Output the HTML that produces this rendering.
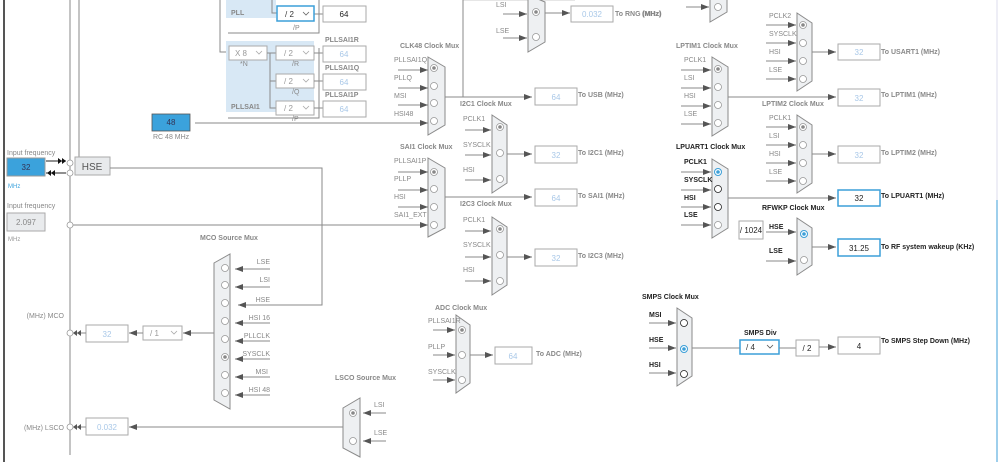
<!DOCTYPE html>
<html><head><meta charset="utf-8"><style>
html,body{margin:0;padding:0;background:#fff;width:999px;height:462px;overflow:hidden}
svg{display:block;font-family:"Liberation Sans",sans-serif}
.l{font-size:7px;fill:#888}
.t{font-size:7px;fill:#888;font-weight:bold}
.d{font-size:7px;fill:#222;font-weight:bold}
.v{font-size:8px;fill:#a9c8e8;text-anchor:middle}
.vd{font-size:8px;fill:#222;text-anchor:middle}
.ln{stroke:#8a8a8a;stroke-width:1;fill:none}
.box{fill:#fff;stroke:#aaa;stroke-width:1}
.bb{fill:#fff;stroke:#3c9fd8;stroke-width:1.5}
.mux{fill:#eef0f2;stroke:#8a8a8a;stroke-width:1}
.c{fill:#fff;stroke:#999;stroke-width:0.8}
.cb{fill:#fff;stroke:#222;stroke-width:0.8}
</style></head><body>
<svg width="999" height="462" viewBox="0 0 999 462">
<defs>
<marker id="a" markerUnits="userSpaceOnUse" markerWidth="8" markerHeight="6" refX="8" refY="3" orient="auto"><path d="M0,0L8,3L0,6z" fill="#555"/></marker>
</defs>
<!-- left frame -->
<line x1="4" y1="0" x2="4" y2="462" stroke="#555" stroke-width="2"/>
<line x1="70" y1="0" x2="70" y2="455" class="ln"/>
<line x1="79" y1="0" x2="79" y2="157" class="ln"/>
<line x1="997" y1="0" x2="997" y2="200" stroke="#dde" stroke-width="1"/>
<line x1="997" y1="200" x2="997" y2="462" stroke="#3c9fd8" stroke-width="1"/>

<!-- PLL -->
<rect x="226" y="0" width="50" height="18" fill="#d8e8f5"/>
<text x="231" y="15" class="t" fill="#555">PLL</text>
<polyline points="220,0 220,52 228,52" class="ln"/>
<polyline points="228,33 319,33 319,0" class="ln"/>
<polyline points="272,0 272,13 277,13" class="ln"/>
<line x1="312" y1="14" x2="323" y2="14" class="ln"/>
<rect x="277" y="6" width="37" height="15" class="bb"/>
<text x="285" y="17" font-size="8" fill="#333">/ 2</text>
<path d="M303,12l3,3l3,-3" stroke="#666" fill="none" stroke-width="0.8"/>
<text x="293" y="30" class="l">/P</text>
<rect x="323" y="6" width="43" height="16" class="box"/>
<text x="344" y="17" class="vd">64</text>

<rect x="226" y="41" width="88" height="71" fill="#d8e8f5"/>
<rect x="229" y="46" width="38" height="14" fill="#fff" stroke="#aaa"/>
<text x="235" y="56" font-size="8" fill="#999">X 8</text>
<path d="M256,51l3,3l3,-3" stroke="#aaa" fill="none" stroke-width="0.8"/>
<text x="240" y="66" class="l">*N</text>
<text x="231" y="109" class="t">PLLSAI1</text>
<polyline points="267,53 270,53 270,108 276,108" class="ln"/>
<line x1="270" y1="81" x2="276" y2="81" class="ln"/>
<line x1="270" y1="53" x2="276" y2="53" class="ln"/>
<g>
<rect x="276" y="46" width="38" height="14" fill="#fff" stroke="#aaa"/><text x="284" y="56" font-size="8" fill="#999">/ 2</text><path d="M303,51l3,3l3,-3" stroke="#aaa" fill="none" stroke-width="0.8"/>
<rect x="276" y="74" width="38" height="14" fill="#fff" stroke="#aaa"/><text x="284" y="84" font-size="8" fill="#999">/ 2</text><path d="M303,79l3,3l3,-3" stroke="#aaa" fill="none" stroke-width="0.8"/>
<rect x="276" y="101" width="38" height="14" fill="#fff" stroke="#aaa"/><text x="284" y="111" font-size="8" fill="#999">/ 2</text><path d="M303,106l3,3l3,-3" stroke="#aaa" fill="none" stroke-width="0.8"/>
</g>
<text x="292" y="66" class="l">/R</text><text x="292" y="94" class="l">/Q</text><text x="292" y="121" class="l">/P</text>
<polyline points="228,118 319,118 319,48" class="ln"/>
<line x1="314" y1="53" x2="323" y2="53" class="ln"/><line x1="314" y1="81" x2="323" y2="81" class="ln"/><line x1="314" y1="108" x2="323" y2="108" class="ln"/>
<text x="325" y="42" class="t">PLLSAI1R</text><text x="325" y="70" class="t">PLLSAI1Q</text><text x="325" y="97" class="t">PLLSAI1P</text>
<rect x="323" y="46" width="43" height="16" class="box"/><text x="344" y="57" class="v">64</text>
<rect x="323" y="74" width="43" height="16" class="box"/><text x="344" y="85" class="v">64</text>
<rect x="323" y="101" width="43" height="16" class="box"/><text x="344" y="112" class="v">64</text>

<!-- RC48 -->
<rect x="152" y="114" width="38" height="17" fill="#3ba2dc" stroke="#555" stroke-width="0.8"/>
<text x="171" y="125" font-size="8" fill="#335" text-anchor="middle">48</text>
<text x="153" y="139" class="l" fill="#666">RC 48 MHz</text>
<line x1="195" y1="123" x2="428" y2="123" class="ln" marker-end="url(#a)"/>

<!-- inputs -->
<text x="7" y="155" class="l" fill="#666">Input frequency</text>
<rect x="7" y="158" width="38" height="18" fill="#3ba2dc" stroke="#999"/>
<text x="26" y="170" font-size="8" fill="#335" text-anchor="middle">32</text>
<text x="8" y="188" font-size="6" fill="#3ba2dc">MHz</text>
<line x1="46" y1="161" x2="66" y2="161" stroke="#222"/>
<path d="M58,158l4,3l-4,3zM62,158l4,3l-4,3z" fill="#111"/>
<line x1="46" y1="173" x2="66" y2="173" stroke="#222"/>
<path d="M51,173l4,-3v6zM47,173l4,-3v6z" fill="#111"/>
<circle cx="70" cy="163" r="3" class="c"/><circle cx="70" cy="173" r="3" class="c"/>
<rect x="75" y="157" width="35" height="18" fill="#e8eaec" stroke="#aaa"/>
<text x="92" y="170" font-size="10" fill="#555" text-anchor="middle">HSE</text>
<polyline points="110,168 322,168 322,305 238,305" class="ln" marker-end="url(#a)"/>
<text x="7" y="208" class="l">Input frequency</text>
<rect x="7" y="213" width="38" height="18" fill="#e9ebed" stroke="#aaa"/>
<text x="26" y="225" font-size="8" fill="#888" text-anchor="middle">2.097</text>
<text x="8" y="241" font-size="6" fill="#999">MHz</text>
<line x1="70" y1="225" x2="428" y2="225" class="ln" marker-end="url(#a)"/>
<circle cx="70" cy="225" r="3" class="c"/>

<!-- MCO -->
<text x="200" y="240" class="t">MCO Source Mux</text>
<polygon points="214,263 230,254 230,409 214,400" class="mux"/>
<g class="c">
<circle cx="225" cy="268" r="3.5"/><circle cx="225" cy="285" r="3.5"/><circle cx="225" cy="303" r="3.5"/><circle cx="225" cy="321" r="3.5"/><circle cx="225" cy="339" r="3.5"/><circle cx="225" cy="357" r="3.5"/><circle cx="225" cy="375" r="3.5"/><circle cx="225" cy="393" r="3.5"/>
</g>
<circle cx="225" cy="357" r="1.8" fill="#888"/>
<g class="ln">
<line x1="270" y1="269" x2="235" y2="269" marker-end="url(#a)"/>
<line x1="270" y1="287" x2="235" y2="287" marker-end="url(#a)"/>
<line x1="270" y1="323" x2="235" y2="323" marker-end="url(#a)"/>
<line x1="270" y1="341" x2="235" y2="341" marker-end="url(#a)"/>
<line x1="270" y1="359" x2="235" y2="359" marker-end="url(#a)"/>
<line x1="270" y1="377" x2="235" y2="377" marker-end="url(#a)"/>
<line x1="270" y1="395" x2="235" y2="395" marker-end="url(#a)"/>
</g>
<g class="l" text-anchor="end">
<text x="270" y="264">LSE</text><text x="270" y="282">LSI</text><text x="270" y="302">HSE</text><text x="270" y="320">HSI 16</text><text x="270" y="338">PLLCLK</text><text x="270" y="356">SYSCLK</text><text x="268" y="374">MSI</text><text x="270" y="392">HSI 48</text>
</g>
<line x1="214" y1="333" x2="183" y2="333" class="ln" marker-end="url(#a)"/>
<rect x="143" y="326" width="39" height="14" fill="#fff" stroke="#aaa"/>
<text x="150" y="336" font-size="8" fill="#999">/ 1</text>
<path d="M171,331l3,3l3,-3" stroke="#aaa" fill="none" stroke-width="0.8"/>
<line x1="143" y1="333" x2="129" y2="333" class="ln" marker-end="url(#a)"/>
<rect x="86" y="325" width="42" height="17" class="box"/><text x="107" y="337" class="v">32</text>
<line x1="86" y1="333" x2="73" y2="333" class="ln"/>
<path d="M77,333l4,-3v6zM73,333l4,-3v6z" fill="#555"/>
<circle cx="70" cy="333" r="3" class="c"/>
<text x="64" y="318" class="l" text-anchor="end">(MHz) MCO</text>

<!-- LSCO -->
<text x="335" y="380" class="t">LSCO Source Mux</text>
<polygon points="343,408 360,398 360,457 343,448" class="mux"/>
<circle cx="353" cy="413" r="3.5" class="c"/><circle cx="353" cy="413" r="1.8" fill="#888"/>
<circle cx="353" cy="441" r="3.5" class="c"/>
<text x="374" y="407" class="l">LSI</text><text x="374" y="435" class="l">LSE</text>
<line x1="386" y1="413" x2="363" y2="413" class="ln" marker-end="url(#a)"/>
<line x1="386" y1="441" x2="363" y2="441" class="ln" marker-end="url(#a)"/>
<line x1="343" y1="427" x2="129" y2="427" class="ln" marker-end="url(#a)"/>
<rect x="86" y="418" width="42" height="17" class="box"/><text x="107" y="430" class="v">0.032</text>
<line x1="86" y1="427" x2="73" y2="427" class="ln"/>
<path d="M77,427l4,-3v6zM73,427l4,-3v6z" fill="#555"/>
<circle cx="70" cy="427" r="3" class="c"/>
<text x="64" y="430" class="l" text-anchor="end">(MHz) LSCO</text>

<!-- RNG -->
<line x1="463" y1="0" x2="575" y2="0" stroke="#ccc"/>
<line x1="463" y1="0" x2="463" y2="97" class="ln"/>
<polygon points="528,-5 545,2 545,42 528,52" class="mux"/>
<circle cx="536" cy="12" r="3.5" class="c"/><circle cx="536" cy="12" r="1.8" fill="#888"/><circle cx="536" cy="37" r="3.5" class="c"/>
<text x="496" y="7" class="l">LSI</text><text x="496" y="33" class="l">LSE</text>
<line x1="503" y1="14" x2="527" y2="14" class="ln" marker-end="url(#a)"/>
<line x1="503" y1="38" x2="527" y2="38" class="ln" marker-end="url(#a)"/>
<line x1="545" y1="13" x2="570" y2="13" class="ln" marker-end="url(#a)"/>
<rect x="571" y="6" width="42" height="16" class="box"/><text x="592" y="17" class="v">0.032</text>
<text x="615" y="16" class="t">To RNG (MHz)</text>

<!-- CLK48 -->
<text x="400" y="48" class="t">CLK48 Clock Mux</text>
<polygon points="428,57 445,67 445,125 428,135" class="mux"/>
<circle cx="434" cy="68" r="3.5" class="c"/><circle cx="434" cy="68" r="1.8" fill="#888"/><circle cx="434" cy="86" r="3.5" class="c"/><circle cx="434" cy="103" r="3.5" class="c"/><circle cx="434" cy="121" r="3.5" class="c"/>
<g class="l"><text x="394" y="62">PLLSAI1Q</text><text x="394" y="80">PLLQ</text><text x="394" y="98">MSI</text><text x="394" y="116">HSI48</text></g>
<g class="ln"><line x1="398" y1="70" x2="428" y2="70" marker-end="url(#a)"/><line x1="398" y1="88" x2="428" y2="88" marker-end="url(#a)"/><line x1="398" y1="105" x2="428" y2="105" marker-end="url(#a)"/></g>
<line x1="445" y1="97" x2="532" y2="97" class="ln" marker-end="url(#a)"/>
<rect x="535" y="88" width="42" height="17" class="box"/><text x="556" y="100" class="v">64</text>
<text x="578" y="97" class="t">To USB (MHz)</text>

<!-- I2C1 -->
<text x="460" y="106" class="t">I2C1 Clock Mux</text>
<polygon points="492,115 507,125 507,183 492,193" class="mux"/>
<circle cx="500" cy="127" r="3.5" class="c"/><circle cx="500" cy="127" r="1.8" fill="#888"/><circle cx="500" cy="153" r="3.5" class="c"/><circle cx="500" cy="179" r="3.5" class="c"/>
<g class="l"><text x="463" y="121">PCLK1</text><text x="463" y="147">SYSCLK</text><text x="463" y="172">HSI</text></g>
<g class="ln"><line x1="465" y1="130" x2="491" y2="130" marker-end="url(#a)"/><line x1="465" y1="155" x2="491" y2="155" marker-end="url(#a)"/><line x1="465" y1="180" x2="491" y2="180" marker-end="url(#a)"/></g>
<line x1="507" y1="154" x2="532" y2="154" class="ln" marker-end="url(#a)"/>
<rect x="535" y="146" width="42" height="17" class="box"/><text x="556" y="158" class="v">32</text>
<text x="578" y="155" class="t">To I2C1 (MHz)</text>

<!-- SAI1 -->
<text x="400" y="149" class="t">SAI1 Clock Mux</text>
<polygon points="428,158 445,168 445,228 428,237" class="mux"/>
<circle cx="434" cy="172" r="3.5" class="c"/><circle cx="434" cy="172" r="1.8" fill="#888"/><circle cx="434" cy="189" r="3.5" class="c"/><circle cx="434" cy="207" r="3.5" class="c"/><circle cx="434" cy="225" r="3.5" class="c"/>
<g class="l"><text x="394" y="163">PLLSAI1P</text><text x="394" y="181">PLLP</text><text x="394" y="199">HSI</text><text x="394" y="217">SAI1_EXT</text></g>
<g class="ln"><line x1="398" y1="172" x2="428" y2="172" marker-end="url(#a)"/><line x1="398" y1="190" x2="428" y2="190" marker-end="url(#a)"/><line x1="398" y1="207" x2="428" y2="207" marker-end="url(#a)"/></g>
<line x1="445" y1="197" x2="532" y2="197" class="ln" marker-end="url(#a)"/>
<rect x="535" y="189" width="42" height="17" class="box"/><text x="556" y="201" class="v">64</text>
<text x="578" y="198" class="t">To SAI1 (MHz)</text>

<!-- I2C3 -->
<text x="460" y="206" class="t">I2C3 Clock Mux</text>
<polygon points="492,217 507,227 507,285 492,295" class="mux"/>
<circle cx="500" cy="229" r="3.5" class="c"/><circle cx="500" cy="229" r="1.8" fill="#888"/><circle cx="500" cy="255" r="3.5" class="c"/><circle cx="500" cy="281" r="3.5" class="c"/>
<g class="l"><text x="463" y="222">PCLK1</text><text x="463" y="247">SYSCLK</text><text x="463" y="272">HSI</text></g>
<g class="ln"><line x1="465" y1="231" x2="491" y2="231" marker-end="url(#a)"/><line x1="465" y1="257" x2="491" y2="257" marker-end="url(#a)"/><line x1="465" y1="281" x2="491" y2="281" marker-end="url(#a)"/></g>
<line x1="507" y1="257" x2="532" y2="257" class="ln" marker-end="url(#a)"/>
<rect x="535" y="249" width="42" height="17" class="box"/><text x="556" y="261" class="v">32</text>
<text x="578" y="258" class="t">To I2C3 (MHz)</text>

<!-- ADC -->
<text x="435" y="310" class="t">ADC Clock Mux</text>
<polygon points="456,315 470,325 470,383 456,393" class="mux"/>
<circle cx="462" cy="330" r="3.5" class="c"/><circle cx="462" cy="330" r="1.8" fill="#888"/><circle cx="462" cy="355" r="3.5" class="c"/><circle cx="462" cy="380" r="3.5" class="c"/>
<g class="l"><text x="428" y="323">PLLSAI1R</text><text x="428" y="349">PLLP</text><text x="428" y="374">SYSCLK</text></g>
<g class="ln"><line x1="433" y1="330" x2="455" y2="330" marker-end="url(#a)"/><line x1="433" y1="355" x2="455" y2="355" marker-end="url(#a)"/><line x1="433" y1="380" x2="455" y2="380" marker-end="url(#a)"/></g>
<line x1="470" y1="355" x2="493" y2="355" class="ln" marker-end="url(#a)"/>
<rect x="495" y="347" width="37" height="17" class="box"/><text x="513" y="359" class="v">64</text>
<text x="536" y="356" class="t">To ADC (MHz)</text>

<!-- top right small mux -->
<polygon points="710,-5 727,-2 727,12 710,22" class="mux"/>
<circle cx="718" cy="7" r="3.5" class="c"/>
<line x1="686" y1="7" x2="709" y2="7" class="ln" marker-end="url(#a)"/>
<text x="642" y="16" class="t">(MHz)</text>

<!-- USART1 -->
<polygon points="797,13 812,23 812,81 797,91" class="mux"/>
<circle cx="803" cy="25" r="3.5" class="c"/><circle cx="803" cy="25" r="1.8" fill="#888"/><circle cx="803" cy="43" r="3.5" class="c"/><circle cx="803" cy="61" r="3.5" class="c"/><circle cx="803" cy="79" r="3.5" class="c"/>
<g class="l"><text x="769" y="18">PCLK2</text><text x="769" y="36">SYSCLK</text><text x="769" y="54">HSI</text><text x="769" y="72">LSE</text></g>
<g class="ln"><line x1="766" y1="25" x2="796" y2="25" marker-end="url(#a)"/><line x1="766" y1="43" x2="796" y2="43" marker-end="url(#a)"/><line x1="766" y1="61" x2="796" y2="61" marker-end="url(#a)"/><line x1="766" y1="79" x2="796" y2="79" marker-end="url(#a)"/></g>
<line x1="812" y1="52" x2="836" y2="52" class="ln" marker-end="url(#a)"/>
<rect x="838" y="44" width="42" height="16" class="box"/><text x="859" y="55" class="v">32</text>
<text x="881" y="54" class="t">To USART1 (MHz)</text>

<!-- LPTIM1 -->
<text x="676" y="48" class="t">LPTIM1 Clock Mux</text>
<polygon points="712,57 728,67 728,126 712,136" class="mux"/>
<circle cx="718" cy="69" r="3.5" class="c"/><circle cx="718" cy="69" r="1.8" fill="#888"/><circle cx="718" cy="87" r="3.5" class="c"/><circle cx="718" cy="105" r="3.5" class="c"/><circle cx="718" cy="123" r="3.5" class="c"/>
<g class="l"><text x="684" y="62">PCLK1</text><text x="684" y="80">LSI</text><text x="684" y="98">HSI</text><text x="684" y="116">LSE</text></g>
<g class="ln"><line x1="681" y1="70" x2="711" y2="70" marker-end="url(#a)"/><line x1="681" y1="88" x2="711" y2="88" marker-end="url(#a)"/><line x1="681" y1="106" x2="711" y2="106" marker-end="url(#a)"/><line x1="681" y1="124" x2="711" y2="124" marker-end="url(#a)"/></g>
<line x1="728" y1="97" x2="836" y2="97" class="ln" marker-end="url(#a)"/>
<rect x="838" y="89" width="42" height="17" class="box"/><text x="859" y="101" class="v">32</text>
<text x="881" y="97" class="t">To LPTIM1 (MHz)</text>

<!-- LPTIM2 -->
<text x="762" y="106" class="t">LPTIM2 Clock Mux</text>
<polygon points="797,115 812,125 812,183 797,193" class="mux"/>
<circle cx="803" cy="127" r="3.5" class="c"/><circle cx="803" cy="127" r="1.8" fill="#888"/><circle cx="803" cy="145" r="3.5" class="c"/><circle cx="803" cy="163" r="3.5" class="c"/><circle cx="803" cy="181" r="3.5" class="c"/>
<g class="l"><text x="769" y="120">PCLK1</text><text x="769" y="138">LSI</text><text x="769" y="156">HSI</text><text x="769" y="174">LSE</text></g>
<g class="ln"><line x1="766" y1="127" x2="796" y2="127" marker-end="url(#a)"/><line x1="766" y1="145" x2="796" y2="145" marker-end="url(#a)"/><line x1="766" y1="163" x2="796" y2="163" marker-end="url(#a)"/><line x1="766" y1="181" x2="796" y2="181" marker-end="url(#a)"/></g>
<line x1="812" y1="154" x2="836" y2="154" class="ln" marker-end="url(#a)"/>
<rect x="838" y="146" width="42" height="17" class="box"/><text x="859" y="158" class="v">32</text>
<text x="881" y="155" class="t">To LPTIM2 (MHz)</text>

<!-- LPUART1 -->
<text x="676" y="149" class="d">LPUART1 Clock Mux</text>
<polygon points="712,159 728,169 728,228 712,238" class="mux"/>
<circle cx="718" cy="172" r="3.5" fill="#fff" stroke="#3c9fd8"/><circle cx="718" cy="172" r="1.8" fill="#3c9fd8"/>
<circle cx="718" cy="189" r="3.5" class="cb"/><circle cx="718" cy="207" r="3.5" class="cb"/><circle cx="718" cy="225" r="3.5" class="c"/>
<g class="d"><text x="684" y="164">PCLK1</text><text x="684" y="182">SYSCLK</text><text x="684" y="200">HSI</text><text x="684" y="217">LSE</text></g>
<g class="ln"><line x1="681" y1="172" x2="711" y2="172" marker-end="url(#a)"/><line x1="681" y1="190" x2="711" y2="190" marker-end="url(#a)"/><line x1="681" y1="207" x2="711" y2="207" marker-end="url(#a)"/><line x1="681" y1="225" x2="711" y2="225" marker-end="url(#a)"/></g>
<line x1="728" y1="198" x2="836" y2="198" class="ln" marker-end="url(#a)"/>
<rect x="838" y="190" width="42" height="16" class="bb"/><text x="859" y="201" class="vd">32</text>
<text x="881" y="198" class="d">To LPUART1 (MHz)</text>

<!-- RFWKP -->
<text x="762" y="210" class="d">RFWKP Clock Mux</text>
<rect x="739" y="221" width="24" height="18" class="box"/><text x="751" y="233" class="vd" font-size="8">/ 1024</text>
<polygon points="797,218 812,228 812,265 797,275" class="mux"/>
<circle cx="804" cy="234" r="3.5" fill="#fff" stroke="#3c9fd8"/><circle cx="804" cy="234" r="1.8" fill="#3c9fd8"/>
<circle cx="804" cy="260" r="3.5" class="c"/>
<text x="769" y="229" class="d">HSE</text><text x="769" y="253" class="d">LSE</text>
<line x1="766" y1="232" x2="796" y2="232" class="ln" marker-end="url(#a)"/>
<line x1="766" y1="261" x2="796" y2="261" class="ln" marker-end="url(#a)"/>
<line x1="812" y1="247" x2="836" y2="247" class="ln" marker-end="url(#a)"/>
<rect x="838" y="239" width="42" height="17" class="bb"/><text x="859" y="251" class="vd">31.25</text>
<text x="881" y="249" class="d">To RF system wakeup (KHz)</text>

<!-- SMPS -->
<text x="642" y="299" class="d">SMPS Clock Mux</text>
<polygon points="677,308 692,318 692,376 677,386" class="mux"/>
<circle cx="684" cy="323" r="3.5" class="cb"/>
<circle cx="684" cy="349" r="3.5" fill="#fff" stroke="#3c9fd8"/><circle cx="684" cy="349" r="1.8" fill="#3c9fd8"/>
<circle cx="684" cy="374" r="3.5" class="cb"/>
<g class="d"><text x="649" y="317">MSI</text><text x="649" y="342">HSE</text><text x="649" y="367">HSI</text></g>
<g class="ln"><line x1="649" y1="323" x2="676" y2="323" marker-end="url(#a)"/><line x1="649" y1="348" x2="676" y2="348" marker-end="url(#a)"/><line x1="649" y1="373" x2="676" y2="373" marker-end="url(#a)"/></g>
<line x1="692" y1="348" x2="740" y2="348" class="ln"/>
<text x="744" y="335" class="d">SMPS Div</text>
<rect x="740" y="340" width="39" height="14" class="bb"/>
<text x="746" y="350" font-size="8" fill="#333">/ 4</text>
<path d="M767,345l3,3l3,-3" stroke="#555" fill="none" stroke-width="0.8"/>
<line x1="779" y1="348" x2="796" y2="348" class="ln"/>
<rect x="796" y="340" width="23" height="16" class="box"/><text x="807" y="351" class="vd">/ 2</text>
<line x1="819" y1="347" x2="836" y2="347" class="ln" marker-end="url(#a)"/>
<rect x="838" y="337" width="42" height="17" class="box"/><text x="859" y="349" class="vd">4</text>
<text x="881" y="343" class="d">To SMPS Step Down (MHz)</text>
</svg>
</body></html>
